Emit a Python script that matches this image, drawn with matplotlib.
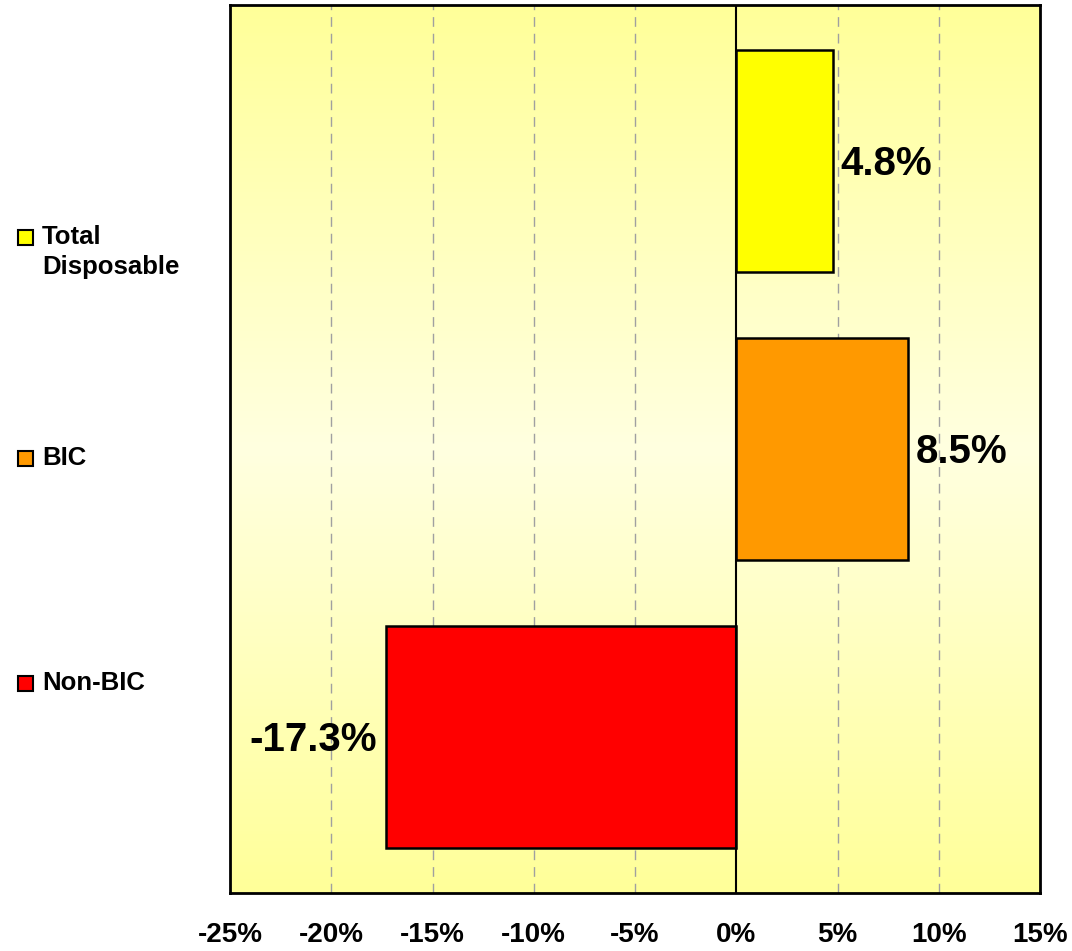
import numpy as np
import matplotlib.pyplot as plt
from matplotlib.patches import Rectangle
from matplotlib.colors import LinearSegmentedColormap

# Datos
categorias = ['Total\nDisposable', 'BIC', 'Non-BIC']
valores = [4.8, 8.5, -17.3]
colores = ['#FFFF00', '#FF9900', '#FF0000']
ticks_x = [-25, -20, -15, -10, -5, 0, 5, 10, 15]

plt.rcParams['font.family'] = ['Liberation Sans', 'DejaVu Sans']

fig = plt.figure(figsize=(10.72, 9.51), dpi=100)
ax = fig.add_axes([230 / 1072, 1 - 893 / 951, 810 / 1072, 888 / 951])

# Fondo con degradado vertical (amarillo arriba/abajo, claro en el centro)
cmap = LinearSegmentedColormap.from_list('fondo', ['#FFFF99', '#FFFFE0', '#FFFF99'])
grad = np.linspace(0, 1, 256).reshape(-1, 1)
ax.imshow(grad, cmap=cmap, aspect='auto', extent=[-25, 15, 2.54, -0.54], zorder=0)

# Barras
y = np.arange(len(categorias))
ax.barh(y, valores, height=0.77, color=colores, edgecolor='black', linewidth=1.8, zorder=3)

ax.set_xlim(-25, 15)
ax.set_ylim(2.54, -0.54)

# Rejilla
for t in ticks_x:
    if t == 0:
        ax.axvline(t, color='black', lw=1.5, zorder=4)
    elif -25 < t < 15:
        ax.axvline(t, color='#A0A0A0', lw=1, ls=(0, (7, 5)), zorder=1)

# Etiquetas de valor
for yi, v in zip(y, valores):
    if v >= 0:
        ax.text(v + 0.35, yi + 0.01, f'{v:.1f}%', ha='left', va='center',
                fontsize=29, fontweight='bold', zorder=5)
    else:
        ax.text(v - 0.45, yi + 0.01, f'{v:.1f}%', ha='right', va='center',
                fontsize=29, fontweight='bold', zorder=5)

ax.set_xticks(ticks_x)
ax.set_xticklabels([f'{t}%' for t in ticks_x], family=['Liberation Sans Narrow', 'Liberation Sans'],
                   fontsize=20, fontweight='bold')
ax.tick_params(axis='x', length=0, pad=21)
ax.set_yticks([])
for s in ax.spines.values():
    s.set_linewidth(2)
    s.set_color('black')

# Leyenda manual
leyenda_y = [237, 458, 683]
for lab, col, ly in zip(categorias, colores, leyenda_y):
    fig.patches.append(Rectangle((18 / 1072, 1 - (ly + 8) / 951), 15 / 1072, 15 / 951,
                                 facecolor=col, edgecolor='black', lw=1.5,
                                 transform=fig.transFigure))
    fig.text(42 / 1072, 1 - (ly - 12) / 951, lab, fontsize=18.5, fontweight='bold',
             va='top', ha='left', linespacing=1.3)

fig.savefig('out.png', dpi=100)
